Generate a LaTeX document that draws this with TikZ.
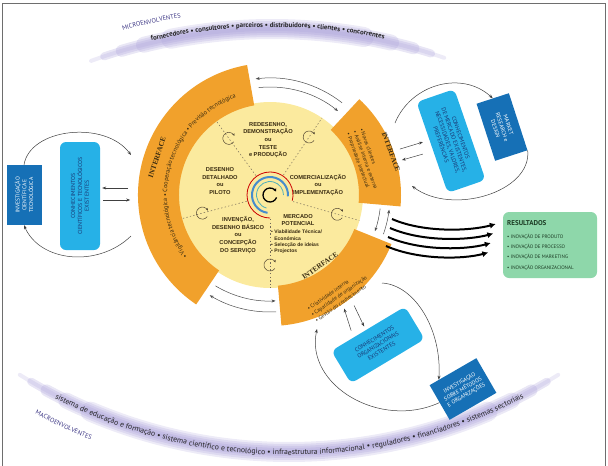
\documentclass[tikz,border=0pt]{standalone}
\usepackage{fontspec}
\setmainfont{PT Sans}
\newfontfamily\stageFont{Liberation Sans}
\newfontfamily\titleFont{Liberation Serif}
\usetikzlibrary{positioning,calc,decorations.text,arrows.meta}

\definecolor{interfaceColor}{RGB}{241,161,44}
\definecolor{coreColor}{RGB}{251,234,158}
\definecolor{knowledgeColor}{RGB}{38,177,231}
\definecolor{researchColor}{RGB}{22,112,182}
\definecolor{resultColor}{RGB}{142,215,170}
\definecolor{bandColor}{RGB}{165,155,215}
\definecolor{stageInk}{RGB}{56,42,16}
\definecolor{knowledgeInk}{RGB}{24,54,116}
\definecolor{resultInk}{RGB}{28,60,36}
\definecolor{envInk}{RGB}{60,54,132}
\definecolor{swirlBlue}{RGB}{70,140,205}
\definecolor{swirlTeal}{RGB}{80,175,185}
\definecolor{frameColor}{RGB}{110,110,110}

\tikzstyle{diagram} = [x = 1pt, y = -1pt]
\tikzstyle{interfaceStyle} = [fill=interfaceColor]
\tikzstyle{stageText} = [font=\stageFont\bfseries\fontsize{5.7}{7.6}\selectfont, text=stageInk, align=center, inner sep=0pt]
\tikzstyle{interfaceTitle} = [font=\titleFont\bfseries\fontsize{7.2}{8}\selectfont, text=stageInk, inner sep=0pt]
\tikzstyle{interfaceText} = [font=\fontsize{5.4}{7}\selectfont, text=stageInk, align=left, inner sep=0pt]
\tikzstyle{stageDivider} = [draw=stageInk!70, line width=0.5pt, dash pattern=on 1.4pt off 2.2pt]
\tikzstyle{cycleStyle} = [draw=stageInk!85, line width=0.5pt, -{Stealth[length=2.4pt, width=2.4pt]}]
\tikzstyle{ringArrow} = [draw=black!70, line width=0.5pt, -{Stealth[length=4pt, width=3pt]}]
\tikzstyle{flowArrow} = [draw=black!75, line width=0.5pt, -{Stealth[length=4pt, width=3pt]}]
\tikzstyle{resultArrow} = [draw=black, line width=2pt, -{Latex[length=6pt, width=6pt]}]
\tikzstyle{knowledgeBox} = [fill=knowledgeColor, rounded corners=6pt, text=knowledgeInk, font=\fontsize{5.8}{6.9}\selectfont, align=center, inner sep=1pt]
\tikzstyle{researchBox} = [fill=researchColor, text=white, font=\fontsize{5.6}{6.8}\selectfont, align=center, inner sep=1pt]
\tikzstyle{resultBox} = [fill=resultColor, rounded corners=6pt, minimum width=94pt, minimum height=66pt]

\newcommand{\interfaceSector}[4]{\fill [interfaceStyle, shift={(C)}] (#1:#4) arc [start angle=#1, end angle=#2, radius=#4] -- (#2:#3) arc [start angle=#2, end angle=#1, radius=#3] -- cycle;}
\newcommand{\ringLink}[3]{\draw [ringArrow, shift={(C)}] (#1:#3) arc [start angle=#1, end angle=#2, radius=#3];}
\newcommand{\stageCycle}[1]{\draw [cycleStyle, shift={(C)}] (#1:70) ++(35:6) arc [start angle=35, end angle=335, radius=6];}
\newcommand{\envBand}[5]{
  \foreach \bandWidth/\bandOpacity/\bandCut in {20/0.2/9, 16/0.22/6, 12/0.24/3.5, 8/0.26/1.5, 4/0.2/0} {
    \draw [bandColor, line width=\bandWidth pt, opacity=\bandOpacity, line cap=round, shift={#1}]
      ({#2+(#5)*\bandCut}:#4) arc [start angle={#2+(#5)*\bandCut}, end angle={#3-(#5)*\bandCut}, radius=#4];
  }
}

\begin{document}
\begin{tikzpicture}[diagram]
\useasboundingbox (0,0) rectangle (608,466);
\draw [frameColor, line width=0.8pt] (2,3) rectangle (605,472);

% environment bands
\envBand{(272,558)}{-110}{-71}{529}{1}
\envBand{(289,-56)}{122}{58}{508}{-1}
\path [decorate, decoration={text along path, text align=center, text color=black!85, text={|\bfseries\fontsize{6.9}{8}\selectfont|fornecedores • consultores • parceiros • distribuidores • clientes • concorrentes}}, shift={(272,558)}] (-112:531) arc [start angle=-112, end angle=-69, radius=531];
\path [decorate, decoration={text along path, text align=left, text color=envInk, text={|\fontsize{6.4}{7}\selectfont|MICROENVOLVENTES}}, shift={(272,558)}] (-105.8:548) arc [start angle=-105.8, end angle=-85, radius=548];
\path [decorate, decoration={text along path, text align=center, text color=black!85, text={|\fontsize{7.7}{9}\selectfont|sistema de educação e formação • sistema científico e tecnológico • infraestrutura informacional • reguladores • financiadores • sistemas sectoriais}}, shift={(289,-56)}] (122:511) arc [start angle=122, end angle=58, radius=511];
\path [decorate, decoration={text along path, text align=left, text color=envInk, text={|\fontsize{6.4}{7}\selectfont|MACROENVOLVENTES}}, shift={(289,-56)}] (118.4:534) arc [start angle=118.4, end angle=98, radius=534];

% core with stages
\coordinate (C) at (270,195);
\fill [coreColor] (C) circle [radius=93];
\foreach \ang in {-126,-56,16,90,-195} {
  \draw [stageDivider, shift={(C)}] (\ang:24) -- (\ang:93);
  \stageCycle{\ang}
}
\draw [red!80!black, line width=0.8pt, shift={(C)}] (-270:23) arc [start angle=-270, end angle=14, radius=23];
\draw [swirlBlue, line width=2pt, shift={(C)}] (-262:18) arc [start angle=-262, end angle=4, radius=18];
\draw [swirlTeal, line width=0.8pt, shift={(C)}] (-255:13.5) arc [start angle=-255, end angle=0, radius=13.5];
\draw [black, line width=1.3pt, -{Stealth[length=3pt, width=3.5pt]}, shift={(C)}] (20:7) arc [start angle=20, end angle=330, radius=7];

\node [stageText] (redesign) at (268,140) {REDESENHO,\\DEMONSTRAÇÃO\\ou\\TESTE\\e PRODUÇÃO};
\node [stageText] (pilot) at (220,181) {DESENHO\\DETALHADO\\ou\\PILOTO};
\node [stageText] (launch) at (318,185) {COMERCIALIZAÇÃO\\ou\\IMPLEMENTAÇÃO};
\node [stageText] (invention) at (238,235) {INVENÇÃO,\\DESENHO BÁSICO\\ou\\CONCEPÇÃO\\DO SERVIÇO};
\node [stageText] (market) at (298,220) {MERCADO\\POTENCIAL};
\node [stageText, align=left, anchor=north west, font=\stageFont\bfseries\fontsize{5}{6.3}\selectfont] (marketList) at (271,230) {• Viabilidade Técnica/\\\phantom{• }Económica\\• Selecção de ideias\\• Projectos};

% interfaces
\interfaceSector{-100}{-236}{91}{132}
\interfaceSector{-47}{5}{89}{131}
\interfaceSector{22}{85}{91}{131}
\ringLink{-52}{-97}{117}
\ringLink{-96}{-51}{108}
\ringLink{19}{7}{120}
\ringLink{7}{19}{111}
\ringLink{121}{87}{106}
\ringLink{87}{121}{117}

\node [interfaceTitle, rotate=71.6] (ifLeftTitle) at ($(C)+(-161.6:119)$) {INTERFACE};
\path [decorate, decoration={text along path, text align=center, text color=stageInk, text={|\fontsize{6.2}{7}\selectfont|• Vigilância tecnológica • Cooperação tecnológica • Previsão tecnológica}}, shift={(C)}] (-230:103) arc [start angle=-230, end angle=-96, radius=103];
\node [interfaceTitle, rotate=-70] (ifRightTitle) at (391,152) {INTERFACE};
\node [interfaceText, rotate=-70] (ifRightList) at (365,160) {• Novos clientes\\• Análise interna e externa\\• Propriedade intelectual};
\node [interfaceTitle, rotate=35] (ifBottomTitle) at (320,266) {INTERFACE};
\node [interfaceText, rotate=35] (ifBottomList) at (339,296) {• Criatividade interna\\• Capacidade de organização\\• Gestão do conhecimento};

% knowledge and research boxes
\node [researchBox, rotate=90, minimum width=60pt, minimum height=35pt] (invScience) at (24,195) {INVESTIGAÇÃO\\CIENTÍFICA E\\TECNOLÓGICA};
\node [knowledgeBox, rotate=90, minimum width=108pt, minimum height=40pt] (knowScience) at (80,196) {CONHECIMENTOS\\CIENTÍFICOS E TECNOLÓGICOS\\EXISTENTES};
\node [knowledgeBox, rotate=-71, minimum width=96pt, minimum height=40pt] (knowMarket) at (451,141) {CONHECIMENTOS\\DE MERCADO EXISTENTES,\\NECESSIDADES, VALORES,\\PREFERÊNCIAS};
\node [researchBox, rotate=-72, minimum width=60pt, minimum height=34pt] (marketResearch) at (502,127) {MARKET\\RESEARCH e\\DESIGN};
\node [knowledgeBox, rotate=31, minimum width=86pt, minimum height=38pt] (knowOrg) at (378,345) {CONHECIMENTOS\\ORGANIZACIONAIS\\EXISTENTES};
\node [researchBox, rotate=30, minimum width=54pt, minimum height=40pt] (invOrg) at (463,389) {INVESTIGAÇÃO\\SOBRE MÉTODOS\\E ORGANIZAÇÕES};

\node [resultBox] (results) at (550,245) {};
\node [anchor=west, font=\bfseries\fontsize{7}{8}\selectfont, text=resultInk, inner sep=0pt] (resultTitle) at (507,223) {RESULTADOS};
\node [anchor=north west, align=left, font=\fontsize{5}{10.2}\selectfont, text=resultInk, inner sep=0pt] (resultList) at (507,234) {• INOVAÇÃO DE PRODUTO\\• INOVAÇÃO DE PROCESSO\\• INOVAÇÃO DE MARKETING\\• INOVAÇÃO ORGANIZACIONAL};

% connectors
\coordinate (ifLeftUp) at (131,155);
\coordinate (ifLeftDown) at (131,236);
\coordinate (ifRightUp) at (395,123);
\coordinate (ifRightDown) at (412,186);
\coordinate (ifBottomRight) at (382,283);
\coordinate (ifBottomLeft) at (317,329);
\draw [flowArrow] (invScience.east) .. controls (30,128) and (105,120) .. (ifLeftUp);
\draw [flowArrow] (ifLeftDown) .. controls (98,268) and (40,262) .. (invScience.west);
\draw [flowArrow] ([xshift=28pt, yshift=8pt]knowScience.south) -- ([xshift=2pt, yshift=8pt]knowScience.south);
\draw [flowArrow] ([xshift=3pt, yshift=-4pt]knowScience.south) -- ([xshift=30pt, yshift=-4pt]knowScience.south);
\draw [flowArrow] (ifRightUp) .. controls (411,84) and (462,70) .. (marketResearch.west);
\draw [flowArrow] (marketResearch.north east) .. controls (532,192) and (452,216) .. (ifRightDown);
\draw [flowArrow] ([xshift=-32pt, yshift=-1.5pt]knowMarket.south) -- ([xshift=-9pt, yshift=5.5pt]knowMarket.south);
\draw [flowArrow] ([xshift=-9pt, yshift=-6.5pt]knowMarket.south) -- ([xshift=-30pt, yshift=-12.5pt]knowMarket.south);
\draw [flowArrow] (ifBottomRight) .. controls (415,285) and (442,330) .. ($(invOrg.north)!0.6!(invOrg.north west)$);
\draw [flowArrow] (invOrg.west) .. controls (380,430) and (305,385) .. (ifBottomLeft);
\draw [flowArrow] ([xshift=-17pt, yshift=-2pt]knowOrg.north) -- ([xshift=-24pt, yshift=20pt]knowOrg.north);
\draw [flowArrow] ([xshift=-14pt, yshift=23pt]knowOrg.north) -- ([xshift=-4pt, yshift=2pt]knowOrg.north);
\foreach \k in {0,...,3} {
  \pgfmathsetmacro{\startX}{392 - 2 * \k}
  \pgfmathsetmacro{\startY}{219 + 9 * \k}
  \pgfmathsetmacro{\endGap}{-7 - 2.5 * \k}
  \pgfmathsetmacro{\endShift}{21 - 9.5 * \k}
  \pgfmathsetmacro{\ctrlY}{231 + 9.5 * \k}
  \pgfmathsetmacro{\ctrlX}{470 - 2.5 * \k}
  \draw [resultArrow] (\startX, \startY) .. controls (\startX + 32, \startY + 14) and (\ctrlX, \ctrlY) .. ([xshift=\endGap pt, yshift=\endShift pt]results.west);
}
\end{tikzpicture}
\end{document}
